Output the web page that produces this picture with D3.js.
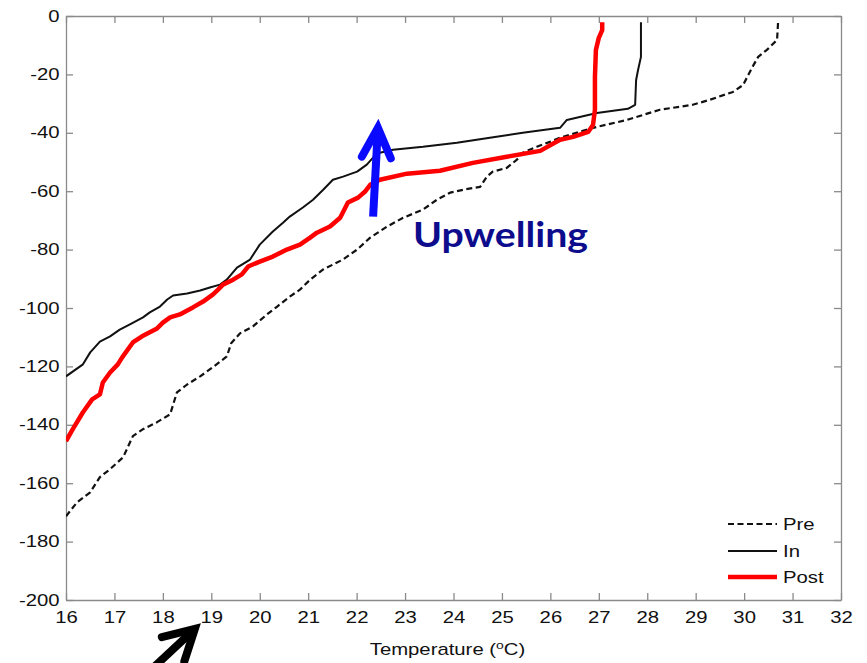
<!DOCTYPE html>
<html>
<head>
<meta charset="utf-8">
<script src="https://cdn.jsdelivr.net/npm/d3@7"></script>
<style>
  html, body { margin: 0; padding: 0; background: #fff; }
  svg { display: block; }
</style>
</head>
<body>
<svg id="chart" width="867" height="663"></svg>
<script>
// Temperature profiles (°C) against depth (m)
const preTemp  = [16.00,16.23,16.50,16.70,16.91,17.18,17.38,17.59,17.88,18.15,18.29,18.50,18.77,19.03,19.32,19.41,19.59,19.86,20.15,20.36,20.62,20.83,21.04,21.31,21.72,22.01,22.28,22.63,22.96,23.37,23.66,23.93,24.20,24.55,24.69,24.81,25.10,25.31,25.43,25.72,25.99,26.20,26.88,27.58,28.26,28.94,29.29,29.77,29.98,30.16,30.29,30.47,30.68,30.70];
const preDepth = [-171.3,-166.5,-163.1,-157.9,-155.2,-151.1,-143.9,-141.5,-139.1,-136.4,-128.9,-126.2,-123.4,-120.3,-116.6,-112.1,-108.7,-106.3,-102.2,-99.5,-96.1,-93.7,-90.3,-86.8,-83.4,-80.0,-75.9,-72.1,-69.1,-66.3,-62.9,-60.5,-59.5,-58.5,-55.0,-53.3,-52.0,-49.2,-46.8,-44.8,-43.1,-41.7,-38.3,-35.6,-32.1,-30.4,-28.7,-26.0,-23.6,-17.8,-14.0,-11.6,-8.2,-2.4];

const inTemp  = [16.00,16.35,16.50,16.70,16.91,17.11,17.32,17.59,17.73,17.94,18.09,18.21,18.50,18.77,18.97,19.18,19.32,19.53,19.80,20.00,20.27,20.48,20.62,20.89,21.10,21.31,21.51,21.72,22.01,22.21,22.34,22.48,22.75,23.37,24.07,24.75,25.43,26.20,26.34,26.96,27.60,27.75,27.77,27.81,27.87,27.87];
const inDepth = [-123.4,-119.3,-115.2,-111.5,-109.7,-107.4,-105.6,-103.2,-101.5,-99.5,-97.1,-95.7,-95.0,-94.0,-93.0,-92.0,-90.3,-86.2,-83.4,-78.3,-73.8,-70.8,-68.7,-65.6,-62.9,-59.5,-56.1,-55.0,-53.3,-50.9,-48.5,-46.8,-45.8,-44.8,-43.4,-41.7,-40.0,-38.3,-35.6,-33.2,-31.8,-30.4,-21.9,-18.5,-14.0,-2.1];

const postTemp  = [16.00,16.14,16.35,16.54,16.70,16.76,16.91,17.07,17.16,17.38,17.57,17.88,18.00,18.15,18.35,18.62,18.83,19.03,19.14,19.24,19.45,19.63,19.76,20.00,20.27,20.56,20.83,21.04,21.18,21.45,21.66,21.82,22.03,22.17,22.28,22.48,23.04,23.72,24.40,25.10,25.79,26.20,26.47,26.78,26.88,26.92,26.92,26.94,27.00,27.07,27.07];
const postDepth = [-145.6,-141.5,-135.7,-131.3,-129.6,-125.5,-122.1,-119.3,-116.9,-111.8,-109.7,-107.0,-105.0,-103.2,-102.2,-99.8,-97.8,-95.4,-93.7,-92.0,-90.3,-88.5,-85.8,-84.1,-82.4,-80.0,-78.3,-75.9,-74.2,-72.1,-69.1,-63.9,-62.2,-60.2,-57.8,-56.1,-54.0,-53.0,-50.3,-48.2,-46.2,-42.4,-41.4,-39.7,-37.3,-32.1,-20.9,-11.6,-7.5,-4.8,-2.1];

const seriesNames = ["Pre", "In", "Post"];
const xTicks = d3.range(16, 33, 1);
const yTicks = d3.range(0, -201, -20);

// Annotation arrows, in data coordinates: [tailT, tailD, tipT, tipD]
const upwellingArrow = [22.34, -68.7, 22.44, -38.3];
const cornerArrow = [17.73, -224.3, 18.66, -209.9];

const svg = d3.select("#chart");
const x = d3.scaleLinear().domain([16, 32]).range([66, 841]);
const y = d3.scaleLinear().domain([0, -200]).range([16, 600]);

const axisColor = "#8a8a8a";
const font = "'Liberation Sans', Arial, Helvetica, sans-serif";
const stretch = "scale(1.27,1)";

// clip for the plotting area
svg.append("defs").append("clipPath").attr("id", "plotClip")
  .append("rect").attr("x", x(16)).attr("y", y(0))
  .attr("width", x(32) - x(16)).attr("height", y(-200) - y(0));

// Axes with inward ticks on all four sides
function styleAxis(g) {
  g.select(".domain").attr("stroke", axisColor).attr("stroke-width", 1.3);
  g.selectAll(".tick line").attr("stroke", axisColor).attr("stroke-width", 1.3);
  g.selectAll("text").attr("fill", "#111").style("font-family", font).style("font-size", "16px");
}

const gx = svg.append("g").attr("transform", `translate(0,${y(-200)})`)
  .call(d3.axisBottom(x).tickValues(xTicks).tickFormat(d3.format("d")).tickSize(-7).tickSizeOuter(0).tickPadding(12))
  .call(styleAxis);
gx.selectAll("text").attr("transform", stretch);

const gy = svg.append("g").attr("transform", `translate(${x(16)},0)`)
  .call(d3.axisLeft(y).tickValues(yTicks).tickFormat(d => d3.format("d")(d).replace("−", "-")).tickSize(-7).tickSizeOuter(0).tickPadding(5))
  .call(styleAxis);
gy.selectAll("text").attr("transform", stretch);

svg.append("g").attr("transform", `translate(0,${y(0)})`)
  .call(d3.axisTop(x).tickValues(xTicks).tickFormat("").tickSize(-7).tickSizeOuter(0))
  .call(styleAxis);
svg.append("g").attr("transform", `translate(${x(32)},0)`)
  .call(d3.axisRight(y).tickValues(yTicks).tickFormat("").tickSize(-7).tickSizeOuter(0))
  .call(styleAxis);

// Axis title
const title = svg.append("text")
  .attr("transform", `translate(${(x(16) + x(32)) / 2 - 6},655) ${stretch}`)
  .attr("text-anchor", "middle")
  .style("font-family", font).style("font-size", "16px").attr("fill", "#111");
title.append("tspan").text("Temperature (");
title.append("tspan").attr("dy", -6).style("font-size", "11px").text("o");
title.append("tspan").attr("dy", 6).text("C)");

// Profiles
const line = d3.line().x(d => x(d[0])).y(d => y(d[1]));
const styles = {
  Pre:  { data: d3.zip(preTemp, preDepth),  color: "#111", width: 2.2, dash: "6,3.5" },
  In:   { data: d3.zip(inTemp, inDepth),    color: "#111", width: 2,   dash: null },
  Post: { data: d3.zip(postTemp, postDepth), color: "#ff0000", width: 4.5, dash: null }
};

const plot = svg.append("g").attr("clip-path", "url(#plotClip)");
["Pre", "In", "Post"].forEach(name => {
  const s = styles[name];
  plot.append("path").datum(s.data)
    .attr("d", line)
    .attr("fill", "none")
    .attr("stroke", s.color)
    .attr("stroke-width", s.width)
    .attr("stroke-linejoin", "round")
    .attr("stroke-dasharray", s.dash);
});

// Legend
const legendY = [524, 551, 577];
seriesNames.forEach((name, i) => {
  const s = styles[name];
  svg.append("line")
    .attr("x1", 728).attr("x2", 777).attr("y1", legendY[i]).attr("y2", legendY[i])
    .attr("stroke", s.color).attr("stroke-width", s.width)
    .attr("stroke-dasharray", s.dash);
  svg.append("text")
    .attr("transform", `translate(783,${legendY[i]}) ${stretch}`)
    .attr("dy", "0.36em")
    .style("font-family", font).style("font-size", "16px").attr("fill", "#111")
    .text(name);
});

// Arrows
function arrow(spec, color, width, headLen, headAngle) {
  const [t0, d0, t1, d1] = spec;
  const x0 = x(t0), y0 = y(d0), x1 = x(t1), y1 = y(d1);
  const ang = Math.atan2(y0 - y1, x0 - x1);
  const a = headAngle * Math.PI / 180;
  const w1 = [x1 + headLen * Math.cos(ang - a), y1 + headLen * Math.sin(ang - a)];
  const w2 = [x1 + headLen * Math.cos(ang + a), y1 + headLen * Math.sin(ang + a)];
  const g = svg.append("g");
  g.append("line").attr("x1", x0).attr("y1", y0)
    .attr("x2", x1 + 4 * Math.cos(ang)).attr("y2", y1 + 4 * Math.sin(ang))
    .attr("stroke", color).attr("stroke-width", width);
  g.append("path")
    .attr("d", `M${w1[0]},${w1[1]}L${x1},${y1}L${w2[0]},${w2[1]}`)
    .attr("fill", "none").attr("stroke", color).attr("stroke-width", width)
    .attr("stroke-linecap", "round").attr("stroke-linejoin", "miter");
}
arrow(upwellingArrow, "#0a0aff", 8, 33, 26);
arrow(cornerArrow, "#000", 8, 34, 29);

// Upwelling label
svg.append("text")
  .attr("x", 413).attr("y", 247)
  .attr("textLength", 175).attr("lengthAdjust", "spacingAndGlyphs")
  .style("font-family", "Lato, 'Open Sans', sans-serif")
  .style("font-weight", "bold").style("font-size", "35px")
  .attr("fill", "#0c0c8c")
  .text("Upwelling");
</script>
</body>
</html>
